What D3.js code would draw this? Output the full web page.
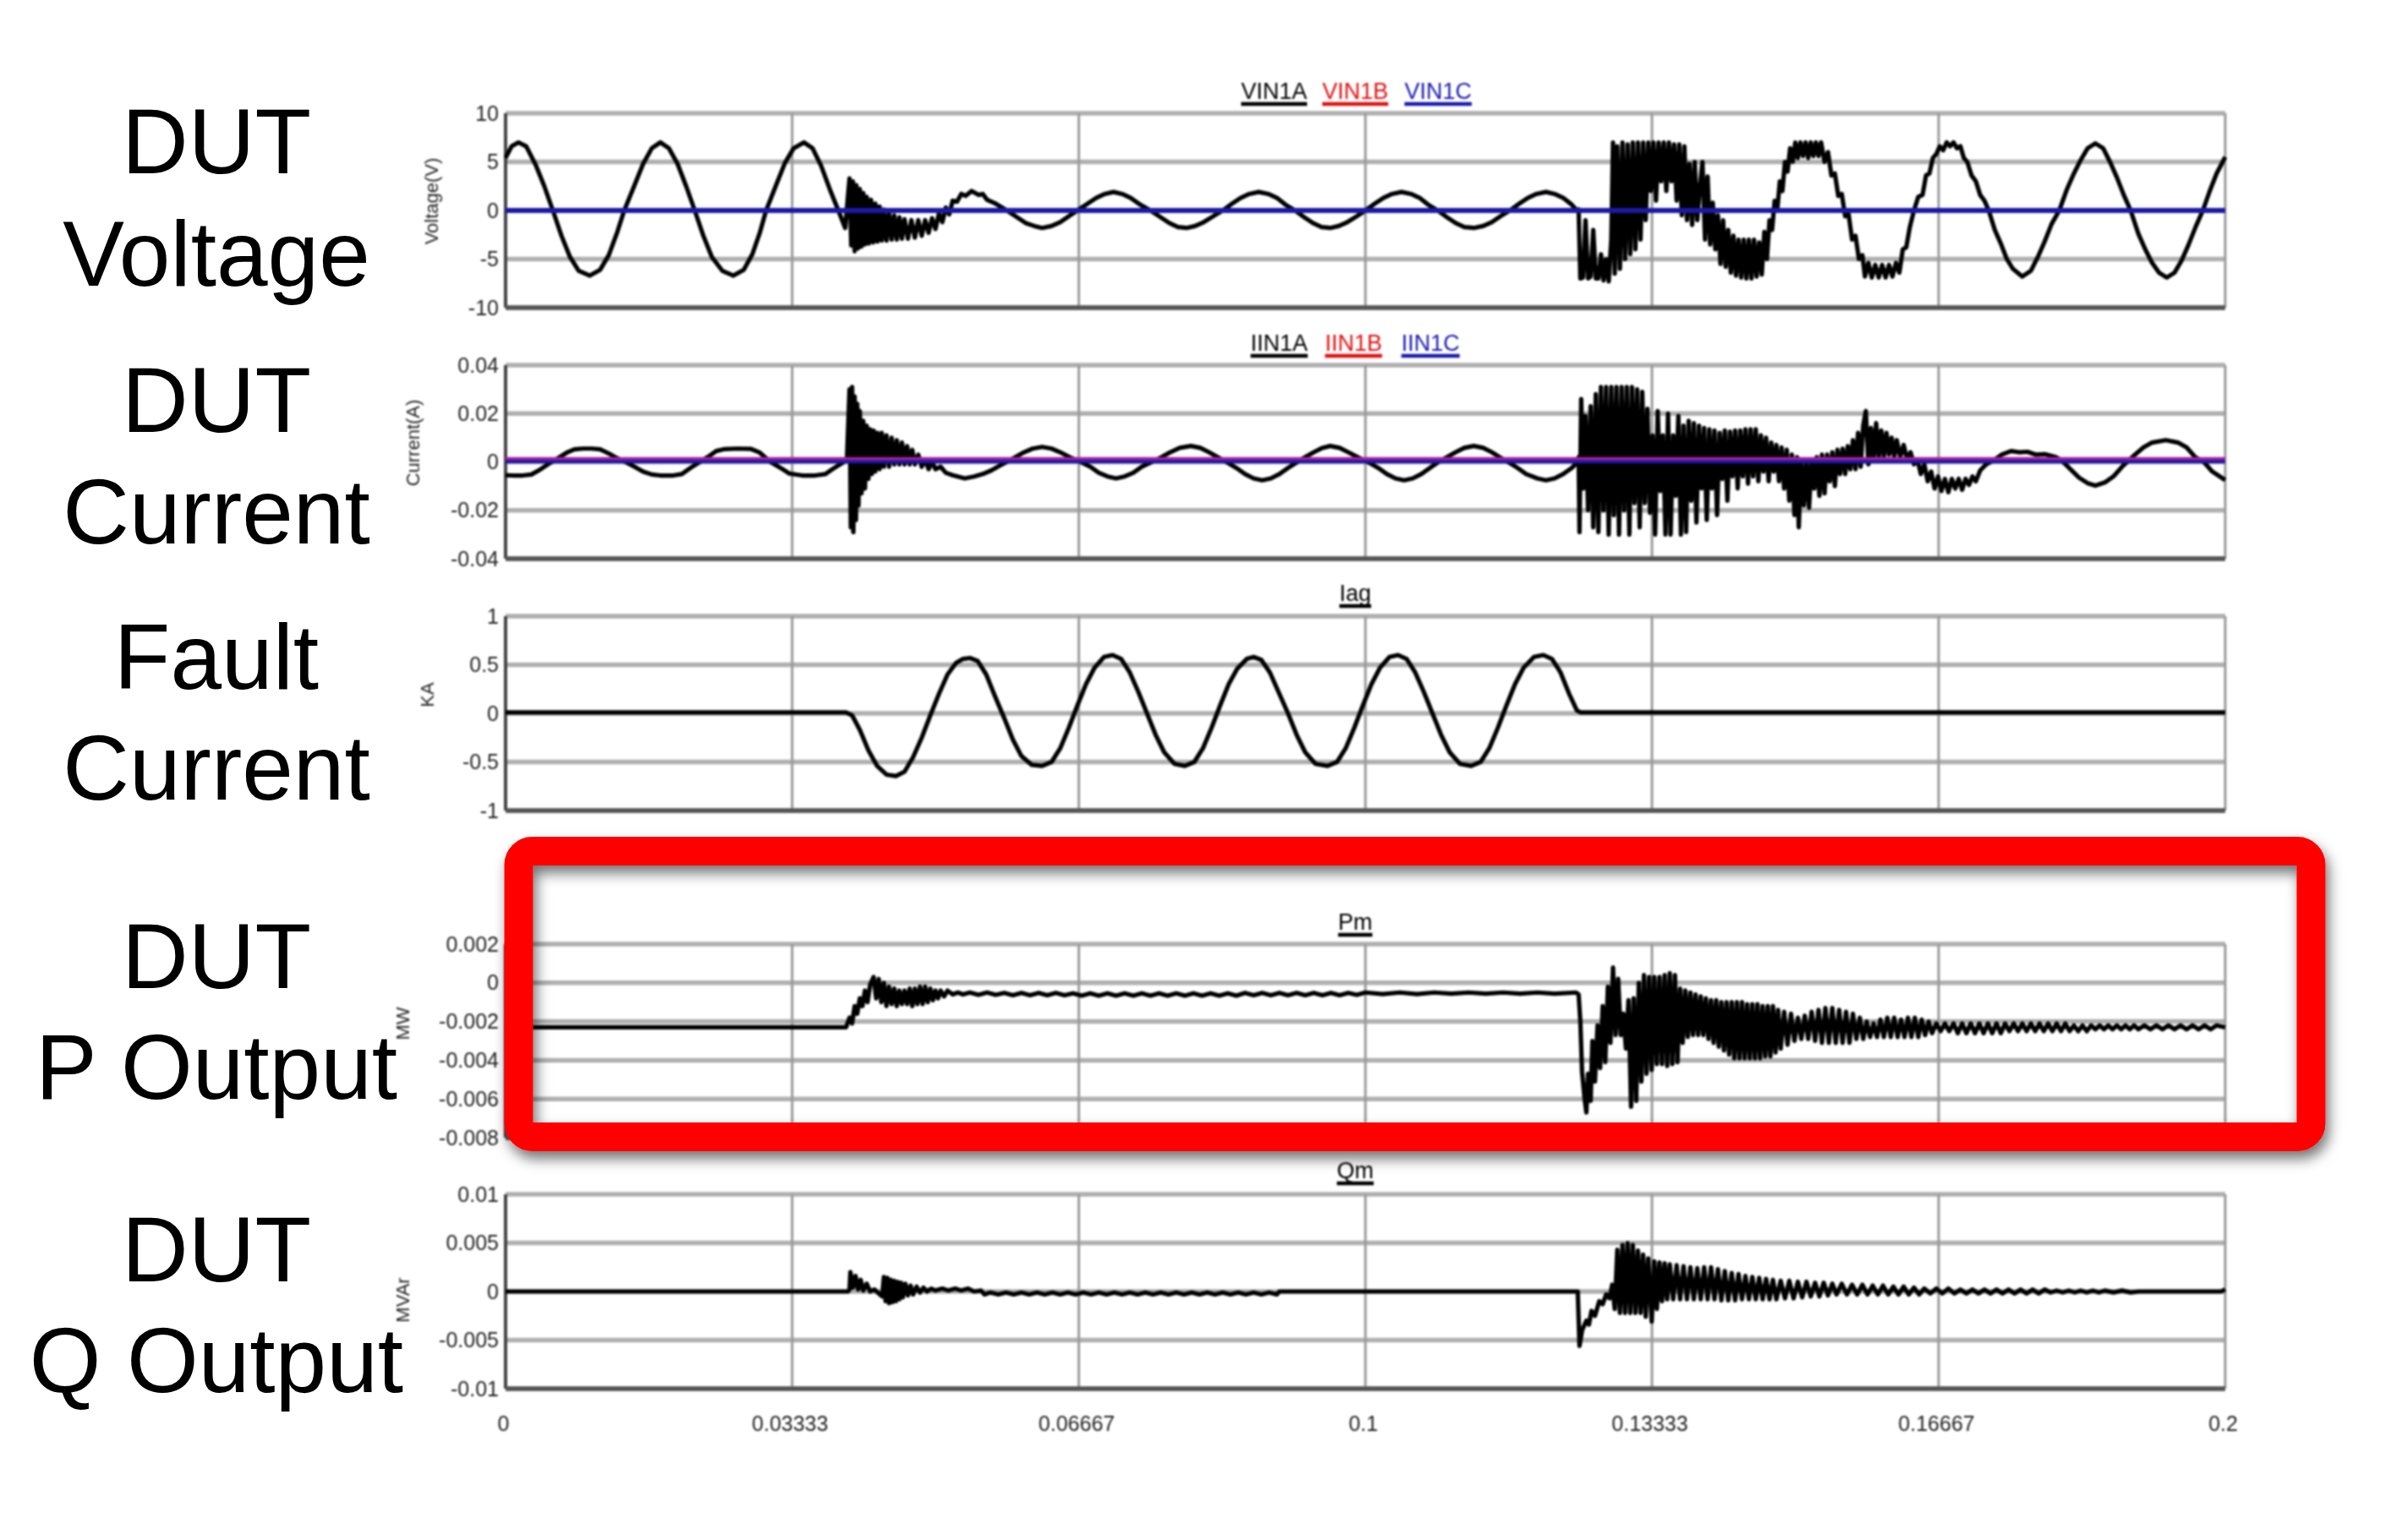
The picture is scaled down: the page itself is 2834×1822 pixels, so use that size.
<!DOCTYPE html>
<html>
<head>
<meta charset="utf-8">
<script src="https://cdn.jsdelivr.net/npm/d3@7"></script>
<style>
  html, body { margin: 0; padding: 0; background: #fff; }
  svg { display: block; font-family: "Liberation Sans", Arial, sans-serif; }
  .panel { filter: blur(1.2px); }
  .tick text { fill: #222; font-size: 25px; }
  .side-label { font-size: 109px; fill: #000; text-anchor: middle; }
</style>
</head>
<body>
<svg id="chart" width="2834" height="1822"></svg>
<script>
// every series is [time in ms, value]
const xTicks = [0, 0.03333, 0.06667, 0.1, 0.13333, 0.16667, 0.2];

const voltTicks = [10, 5, 0, -5, -10];
const currTicks = [0.04, 0.02, 0, -0.02, -0.04];
const faultTicks = [1, 0.5, 0, -0.5, -1];
const pmTicks = [0.002, 0, -0.002, -0.004, -0.006, -0.008];
const qmTicks = [0.01, 0.005, 0, -0.005, -0.01];

const sideLabels = [
  ["DUT", 205], ["Voltage", 338], ["DUT", 511], ["Current", 643], ["Fault", 815], ["Current", 946],
  ["DUT", 1169], ["P Output", 1300], ["DUT", 1516], ["Q Output", 1647]
];

const vin1aBefore = [[0,5.4],[0.7,6.6],[1.5,7],[2.4,6.6],[3.5,4.7],[4.5,2.5],[5.5,0],[6.5,-2.6],[7.5,-4.8],[8.5,-6.2],[9.8,-6.7],[11,-6.1],[12,-4.6],[13,-2.2],[13.8,0],[15,2.6],[16,4.8],[17,6.4],[18,7],[19,6.4],[20,4.8],[21,2.5],[22,0],[23,-2.6],[24,-4.8],[25.2,-6.2],[26.5,-6.7],[27.7,-6.1],[28.7,-4.5],[29.6,-2.2],[30.3,0],[31.5,2.7],[32.5,4.9],[33.5,6.4],[34.7,7],[35.7,6.4],[36.7,4.6],[37.7,2.2],[38.7,0],[39.5,-1.8]];
const vin1aFault = [[40,3.3],[40.2,-3.6],[40.4,3],[40.6,-4.2],[40.8,2.6],[41,-3.9],[41.2,2.2],[41.4,-3.7],[41.6,1.8],[41.8,-3.5],[42,1.4],[42.25,-3.4],[42.5,1.1],[42.75,-3.3],[43,0.7],[43.25,-3.2],[43.5,0.4],[43.75,-3.1],[44,0.1],[44.3,-3.1],[44.6,-0.2],[44.9,-3],[45.2,-0.5],[45.5,-3],[45.8,-0.7],[46.1,-2.9],[46.4,-0.9],[46.8,-2.9],[47.2,-1],[47.6,-2.8],[48,-1],[48.4,-2.6],[48.8,-1],[49.2,-2.3],[49.6,-0.8],[50,-1.9],[50.4,-0.3],[50.8,-1.2],[51.2,0.3],[51.6,-0.4],[52,1],[52.5,0.9],[53,1.7],[53.5,1.5],[54.2,2],[55,1.6],[55.5,1.7],[56,1.1],[57,0.7],[58.3,0],[59.5,-0.7],[60.5,-1.3],[61.5,-1.6],[62.4,-1.8],[63.5,-1.6],[64.5,-1.2],[65.5,-0.6],[66.5,0],[67.7,0.7],[68.7,1.3],[69.7,1.7],[70.7,1.9],[71.7,1.7],[72.7,1.3],[73.8,0.6],[75,0],[76.2,-0.7],[77.2,-1.3],[78.2,-1.7],[79.2,-1.8],[80.2,-1.6],[81.2,-1.2],[82.3,-0.6],[83.4,0],[84.5,0.7],[85.5,1.3],[86.5,1.7],[87.6,1.9],[88.7,1.7],[89.7,1.3],[90.7,0.6],[91.8,0],[92.9,-0.7],[93.9,-1.3],[94.9,-1.7],[95.9,-1.8],[96.9,-1.6],[97.9,-1.2],[99,-0.6],[100,0],[101.1,0.7],[102.1,1.3],[103.1,1.7],[104.2,1.9],[105.3,1.7],[106.3,1.3],[107.3,0.6],[108.4,0],[109.5,-0.7],[110.5,-1.3],[111.5,-1.7],[112.6,-1.8],[113.7,-1.6],[114.7,-1.2],[115.7,-0.6],[116.8,0],[117.9,0.7],[118.9,1.3],[119.9,1.7],[121,1.9],[122,1.7],[123,1.3],[124,0.6],[124.6,0]];
const vin1aAfter = [[124.8,0.1],[125,-7],[125.3,-6.9],[125.6,-1],[125.9,-7],[126.2,-6.8],[126.5,-2],[126.8,-7],[127.1,-7],[127.4,-4.5],[127.7,-7.2],[128,-5],[128.3,-7.3],[128.6,-3],[128.8,7],[129,-6.5],[129.3,6.6],[129.6,-6],[129.9,7],[130.2,-5],[130.5,6.8],[130.8,-4.5],[131.1,7],[131.4,-4],[131.7,7],[132,-3],[132.3,7],[132.6,-1],[132.9,7],[133.2,2],[133.5,7],[133.8,1],[134.1,7],[134.4,3],[134.7,7],[135,2],[135.3,7],[135.6,3],[135.9,6.8],[136.2,1],[136.5,6.8],[136.8,-0.5],[137.1,6.6],[137.4,-1],[137.7,4.8],[138,-1.5],[138.3,5],[138.6,-1],[138.9,2.5],[139.2,5],[139.5,-3],[139.8,3.5],[140.1,-3.5],[140.4,0.8],[140.7,-4],[141,-0.5],[141.3,-5.5],[141.6,-1],[141.9,-5.8],[142.2,-2],[142.5,-6.4],[142.8,-2.6],[143.1,-6.7],[143.4,-3],[143.7,-6.9],[144,-3],[144.3,-7],[144.6,-3],[144.9,-7],[145.2,-3],[145.5,-6.8],[145.8,-3.3],[146.1,-6.6],[146.4,-2.2],[146.7,-5],[147,-1],[147.3,-2],[147.6,1],[147.9,0],[148.2,3],[148.5,2],[148.8,5],[149.1,4],[149.4,6.4],[149.7,5],[150,7],[150.3,5.4],[150.6,7],[150.9,5.6],[151.2,7],[151.5,5.4],[151.8,7],[152.1,5.6],[152.4,7],[152.7,5.6],[153,7],[153.4,5],[153.8,6],[154.2,3.6],[154.6,3.8],[155,1.5],[155.4,1.7],[155.8,-0.6],[156.2,-0.4],[156.6,-3],[157,-2.6],[157.4,-5],[157.8,-4.6],[158.1,-6.8],[158.5,-5.4],[158.9,-6.9],[159.3,-5.6],[159.7,-6.9],[160.1,-5.6],[160.5,-6.9],[160.9,-5.6],[161.3,-6.8],[161.7,-5.4],[162.1,-6.4],[162.5,-4],[162.9,-3.8],[163.3,-1.8],[163.8,0],[164.3,1.4],[164.8,1.6],[165.2,3.6],[165.6,3.8],[166,5.4],[166.4,5.8],[166.8,6.6],[167.2,6.2],[167.6,7],[168,6.6],[168.4,7],[168.8,6.4],[169.2,6.6],[169.6,5.4],[170,5],[170.5,3.6],[171,3],[171.5,1.6],[172,1],[172.5,0],[173.2,-2],[173.9,-3.4],[174.6,-5],[175.3,-6],[176.4,-6.8],[177.4,-6.2],[178.2,-4.8],[179,-3.2],[179.8,-1.4],[180.7,0],[181.6,2.2],[182.4,3.8],[183.2,5.2],[184,6.4],[184.9,6.9],[185.8,6.4],[186.6,5],[187.4,3.4],[188.2,1.6],[189,0],[189.9,-2.4],[190.7,-4],[191.5,-5.4],[192.3,-6.4],[193.2,-6.9],[194.1,-6.4],[194.9,-5.2],[195.7,-3.6],[196.6,-1.6],[197.4,0],[198.2,2],[199,3.8],[200,5.5]];
const vin1b = [[0,0],[200,0]];
const vin1c = [[0,0],[200,0]];

const iin1aBefore = [[0,-0.0055],[1,-0.0056],[2,-0.0056],[3,-0.0052],[4,-0.0032],[5,-0.0008],[5.4,0],[6.3,0.002],[7.2,0.004],[8,0.0052],[9,0.0055],[10,0.0055],[11,0.0052],[12,0.0035],[13,0.0015],[14.1,-0.0003],[15,-0.002],[16,-0.004],[17,-0.0052],[18,-0.0056],[19.5,-0.0056],[20.5,-0.005],[21.5,-0.0025],[22.6,0],[23.5,0.002],[24.5,0.0045],[25.5,0.0053],[27,0.0055],[28.5,0.0054],[29.5,0.004],[30.8,0],[32,-0.0025],[33,-0.0048],[34.5,-0.0056],[36,-0.0056],[37.2,-0.005],[38,-0.003],[39,-0.0008],[39.7,0.0008]];
const iin1aFault = [[40,0.03],[40.15,-0.027],[40.3,0.031],[40.45,-0.029],[40.6,0.027],[40.75,-0.024],[40.9,0.024],[41.05,-0.018],[41.2,0.021],[41.4,-0.013],[41.6,0.017],[41.8,-0.011],[42,0.015],[42.2,-0.007],[42.4,0.0135],[42.6,-0.005],[42.8,0.013],[43,-0.004],[43.25,0.012],[43.5,-0.003],[43.75,0.012],[44,-0.002],[44.3,0.011],[44.6,-0.002],[44.9,0.01],[45.2,-0.001],[45.5,0.009],[45.8,-0.001],[46.1,0.008],[46.4,-0.001],[46.7,0.0065],[47,-0.001],[47.3,0.005],[47.6,-0.001],[48,0.003],[48.4,-0.002],[48.8,0.001],[49.2,-0.003],[49.6,0],[50,-0.003],[50.6,-0.002],[51.2,-0.0045],[52,-0.0055],[53.4,-0.0068],[54.5,-0.006],[55.5,-0.005],[56.5,-0.0035],[57.5,-0.0015],[58.3,0],[59.3,0.002],[60.3,0.004],[61.3,0.0055],[62.4,0.0062],[63.5,0.0055],[64.5,0.004],[65.7,0.0018],[67,-0.0002],[68,-0.002],[69,-0.0045],[70,-0.006],[71,-0.0068],[72,-0.006],[73,-0.0045],[74,-0.002],[75.2,0],[76.3,0.002],[77.3,0.004],[78.4,0.0058],[79.7,0.0066],[80.8,0.0058],[81.8,0.004],[82.9,0.0018],[83.9,-0.0002],[85,-0.0025],[86,-0.005],[87,-0.0068],[88,-0.0076],[89,-0.0068],[90,-0.005],[91,-0.0025],[92.1,0],[93,0.002],[94,0.004],[95,0.0058],[95.9,0.0066],[97,0.0058],[98,0.004],[99.2,0.0018],[100.4,-0.0003],[101.5,-0.0025],[102.5,-0.005],[103.5,-0.0068],[104.5,-0.0076],[105.5,-0.0068],[106.5,-0.005],[107.5,-0.0025],[108.5,0],[109.5,0.002],[110.5,0.004],[111.5,0.0058],[112.6,0.0066],[113.7,0.0058],[114.7,0.004],[115.7,0.0018],[116.7,-0.0003],[117.7,-0.0025],[118.7,-0.005],[120,-0.0068],[121,-0.0076],[122,-0.0068],[123,-0.005],[124,-0.0025],[124.6,-0.0003]];
const iin1aAfter = [[124.8,0.002],[124.9,-0.029],[125.1,0.026],[125.35,-0.011],[125.6,0.019],[125.9,-0.02],[126.2,0.023],[126.5,-0.027],[126.8,0.028],[127.1,-0.029],[127.4,0.031],[127.7,-0.02],[128,0.031],[128.3,-0.03],[128.6,0.031],[128.9,-0.022],[129.2,0.031],[129.5,-0.03],[129.8,0.031],[130.1,-0.02],[130.4,0.031],[130.7,-0.03],[131,0.031],[131.3,-0.017],[131.6,0.03],[131.9,-0.027],[132.2,0.029],[132.5,-0.017],[132.8,0.022],[133.1,-0.021],[133.4,0.011],[133.7,-0.03],[134,0.021],[134.3,-0.012],[134.6,0.011],[134.9,-0.03],[135.2,0.02],[135.5,-0.03],[135.8,0.011],[136.1,-0.014],[136.4,0.019],[136.7,-0.03],[137,0.015],[137.3,-0.029],[137.6,0.017],[137.9,-0.016],[138.2,0.016],[138.5,-0.025],[138.8,0.015],[139.1,-0.011],[139.4,0.014],[139.7,-0.024],[140,0.0135],[140.3,-0.011],[140.6,0.013],[140.9,-0.022],[141.2,0.012],[141.5,-0.007],[141.8,0.013],[142.1,-0.016],[142.4,0.0125],[142.7,-0.006],[143,0.013],[143.3,-0.011],[143.6,0.013],[143.9,-0.006],[144.2,0.0135],[144.5,-0.009],[144.8,0.0135],[145.1,-0.006],[145.4,0.0135],[145.7,-0.008],[146,0.011],[146.3,-0.004],[146.6,0.01],[146.9,-0.008],[147.2,0.008],[147.5,-0.004],[147.8,0.007],[148.1,-0.008],[148.4,0.006],[148.7,-0.011],[149,0.005],[149.3,-0.016],[149.6,0.003],[149.9,-0.022],[150.2,0.002],[150.4,-0.027],[150.7,0.0005],[151,-0.018],[151.3,0.001],[151.6,-0.019],[151.9,0.001],[152.2,-0.011],[152.5,0.002],[152.8,-0.014],[153.1,0.003],[153.4,-0.013],[153.7,0.003],[154,-0.008],[154.3,0.004],[154.6,-0.01],[154.9,0.005],[155.2,-0.005],[155.5,0.0055],[155.8,-0.005],[156.1,0.0065],[156.4,-0.003],[156.7,0.009],[157,-0.003],[157.3,0.012],[157.6,-0.002],[157.9,0.015],[158.2,0.021],[158.5,-0.001],[158.8,0.014],[159.1,0.001],[159.4,0.016],[159.7,0.002],[160,0.013],[160.3,0.002],[160.6,0.012],[160.9,0.003],[161.2,0.01],[161.5,0.002],[161.8,0.009],[162.2,0.002],[162.6,0.007],[163,0.001],[163.4,0.004],[163.8,-0.001],[164.2,0.001],[164.6,-0.005],[165,-0.001],[165.4,-0.008],[165.8,-0.004],[166.2,-0.011],[166.6,-0.006],[167,-0.012],[167.4,-0.007],[167.8,-0.0125],[168.2,-0.007],[168.6,-0.011],[169,-0.007],[169.4,-0.0115],[169.8,-0.007],[170.2,-0.0095],[170.6,-0.006],[171,-0.008],[171.5,-0.0035],[172.2,-0.001],[173,0.0005],[174,0.003],[175.1,0.0045],[176,0.004],[177,0.0042],[178,0.003],[179,0.0032],[180.3,0.002],[181,0.0005],[182,-0.003],[183,-0.0065],[184,-0.0088],[184.9,-0.0098],[186,-0.0085],[187,-0.006],[188,-0.002],[188.6,0],[189.5,0.003],[190.5,0.006],[191.5,0.008],[193.1,0.009],[194.5,0.008],[195.5,0.006],[196.5,0.002],[197.5,0],[198.5,-0.004],[200,-0.0075]];
const iin1b = [[0,0.0014],[200,0.0014]];
const iin1c = [[0,0.0002],[200,0.0002]];

const iag = [[0,0.01],[39.6,0.01],[40.3,-0.02],[41.2,-0.17],[42.2,-0.38],[43.2,-0.54],[44.3,-0.63],[45.4,-0.645],[46.4,-0.6],[47.4,-0.45],[48.4,-0.25],[49.4,-0.02],[50.4,0.2],[51.4,0.4],[52.4,0.52],[53.2,0.56],[54,0.57],[54.9,0.54],[55.9,0.4],[56.9,0.18],[58,-0.05],[59,-0.27],[60,-0.44],[61.2,-0.53],[62.4,-0.54],[63.5,-0.5],[64.5,-0.36],[65.5,-0.15],[66.5,0.08],[67.5,0.3],[68.5,0.47],[69.6,0.58],[70.6,0.6],[71.6,0.56],[72.6,0.42],[73.6,0.22],[74.6,0],[75.6,-0.22],[76.6,-0.4],[77.8,-0.52],[79,-0.54],[80.1,-0.5],[81.1,-0.36],[82.1,-0.15],[83.1,0.08],[84.1,0.3],[85.1,0.46],[86.2,0.56],[87,0.58],[87.9,0.55],[88.9,0.42],[89.9,0.22],[91,0],[92,-0.22],[93,-0.4],[94.2,-0.52],[95.6,-0.54],[96.7,-0.5],[97.7,-0.36],[98.7,-0.15],[99.7,0.08],[100.7,0.3],[101.7,0.47],[102.8,0.58],[103.8,0.6],[104.8,0.56],[105.8,0.42],[106.8,0.22],[107.8,0],[108.8,-0.22],[109.8,-0.4],[111,-0.52],[112.3,-0.54],[113.4,-0.5],[114.4,-0.36],[115.4,-0.15],[116.4,0.08],[117.4,0.3],[118.4,0.47],[119.6,0.58],[120.7,0.6],[121.7,0.56],[122.7,0.42],[123.7,0.2],[124.6,0.03],[125,0.01],[200,0.01]];

const pmBefore = [[0,-0.0023],[39.6,-0.0023],[40,-0.0018],[40.3,-0.0021],[40.6,-0.0012],[40.9,-0.0016],[41.2,-0.0008],[41.5,-0.0012],[41.8,-0.0004],[42.1,-0.001],[42.4,-0.0001],[42.8,0.0003],[43.1,-0.0008],[43.4,0.0002],[43.7,-0.001],[44,0],[44.3,-0.0012],[44.6,-0.0002],[44.9,-0.0011],[45.2,-0.0003],[45.5,-0.0012],[45.8,-0.0004],[46.1,-0.0011],[46.4,-0.0004],[46.7,-0.0011],[47,-0.0003],[47.3,-0.0012],[47.6,-0.0003],[47.9,-0.0011],[48.2,-0.0002],[48.5,-0.0011],[48.8,-0.0002],[49.1,-0.001],[49.4,-0.0003],[49.7,-0.0009],[50,-0.0004],[50.3,-0.0008],[50.6,-0.0004],[51,-0.0007],[51.4,-0.0004],[52,-0.0006],[52.6,-0.0005],[53.2,-0.0006]];
const pmSteady = [[54,-0.0005],[55,-0.00062],[56,-0.0005],[57,-0.00062],[58,-0.00052],[59,-0.00064],[60,-0.00052],[61,-0.00064],[62,-0.00052],[63,-0.00064],[64,-0.00052],[65,-0.00064],[66,-0.00054],[67,-0.00066],[68,-0.00054],[69,-0.00066],[70,-0.00054],[71,-0.00066],[72,-0.00054],[73,-0.00066],[74,-0.00054],[75,-0.00066],[76,-0.00054],[77,-0.00066],[78,-0.00054],[79,-0.00066],[80,-0.00054],[81,-0.00066],[82,-0.00054],[83,-0.00066],[84,-0.00054],[85,-0.00066],[86,-0.00052],[87,-0.00064],[88,-0.00052],[89,-0.00064],[90,-0.00052],[91,-0.00064],[92,-0.00052],[93,-0.00064],[94,-0.00052],[95,-0.00064],[96,-0.00052],[97,-0.00064],[98,-0.00052],[99,-0.00062],[100,-0.0005],[102,-0.00058],[104,-0.0005],[106,-0.00058],[108,-0.0005],[110,-0.00056],[112,-0.0005],[114,-0.00056],[116,-0.0005],[118,-0.00056],[120,-0.0005],[122,-0.00056],[124.5,-0.0005]];
const pmAfter = [[124.8,-0.0006],[125,-0.002],[125.2,-0.0046],[125.5,-0.006],[125.7,-0.0067],[125.9,-0.0047],[126.2,-0.0061],[126.4,-0.003],[126.7,-0.0051],[127,-0.0022],[127.3,-0.0044],[127.6,-0.0012],[127.9,-0.0041],[128.2,-0.0002],[128.5,-0.0031],[128.8,0.0008],[129.1,-0.0027],[129.4,0.0002],[129.7,-0.0027],[130,-0.0016],[130.3,-0.0034],[130.6,-0.0009],[130.9,-0.0064],[131.2,-0.0008],[131.5,-0.0061],[131.8,0],[132.1,-0.0051],[132.4,0.0004],[132.7,-0.0047],[133,0.0003],[133.3,-0.0045],[133.6,0.0003],[133.9,-0.0042],[134.2,0.0003],[134.5,-0.0042],[134.8,0.0004],[135.1,-0.0043],[135.4,0.0005],[135.7,-0.0042],[136,0.0004],[136.3,-0.0041],[136.6,-0.0003],[136.9,-0.0031],[137.2,-0.0004],[137.5,-0.0028],[137.8,-0.0005],[138.1,-0.0027],[138.4,-0.0006],[138.7,-0.0027],[139,-0.0007],[139.3,-0.0027],[139.6,-0.0008],[139.9,-0.0029],[140.2,-0.0009],[140.5,-0.0031],[140.8,-0.0009],[141.1,-0.0033],[141.4,-0.001],[141.7,-0.0035],[142,-0.001],[142.3,-0.0037],[142.6,-0.001],[142.9,-0.0039],[143.2,-0.001],[143.5,-0.0039],[143.8,-0.001],[144.1,-0.0039],[144.4,-0.0011],[144.7,-0.0039],[145,-0.0011],[145.3,-0.0039],[145.6,-0.0011],[145.9,-0.0039],[146.2,-0.0012],[146.5,-0.0038],[146.8,-0.0012],[147.1,-0.0038],[147.4,-0.0012],[147.7,-0.0036],[148,-0.0014],[148.3,-0.0034],[148.7,-0.0015],[149.1,-0.0032],[149.5,-0.0016],[149.9,-0.003],[150.3,-0.0018],[150.7,-0.0029],[151.1,-0.0017],[151.5,-0.0029],[151.9,-0.0015],[152.3,-0.003],[152.7,-0.0014],[153.1,-0.0031],[153.5,-0.0013],[153.9,-0.0031],[154.3,-0.0013],[154.7,-0.0031],[155.1,-0.0014],[155.5,-0.0031],[155.9,-0.0015],[156.3,-0.0031],[156.7,-0.0016],[157.1,-0.0029],[157.5,-0.0018],[157.9,-0.0029],[158.3,-0.002],[158.7,-0.0028],[159.1,-0.0021],[159.5,-0.0028],[159.9,-0.0019],[160.3,-0.0028],[160.7,-0.0018],[161.1,-0.0028],[161.5,-0.0018],[161.9,-0.0028],[162.3,-0.0019],[162.7,-0.0028],[163.1,-0.0018],[163.5,-0.0028],[163.9,-0.0018],[164.3,-0.0028],[164.7,-0.0019],[165.1,-0.0027],[165.5,-0.002],[165.9,-0.0026],[166.4,-0.0021],[166.9,-0.0025],[167.4,-0.0021],[167.9,-0.0025],[168.4,-0.0021],[168.9,-0.0026],[169.4,-0.0021],[169.9,-0.0026],[170.4,-0.0021],[170.9,-0.0026],[171.4,-0.0021],[171.9,-0.0026],[172.4,-0.0021],[172.9,-0.0026],[173.4,-0.0021],[173.9,-0.0026],[174.4,-0.0021],[174.9,-0.0025],[175.4,-0.0021],[175.9,-0.0025],[176.4,-0.0021],[176.9,-0.0025],[177.4,-0.0021],[177.9,-0.0025],[178.4,-0.0021],[178.9,-0.0025],[179.4,-0.0021],[179.9,-0.0025],[180.4,-0.0021],[180.9,-0.0025],[181.4,-0.0021],[181.9,-0.0025],[182.4,-0.0022],[182.9,-0.0025],[183.4,-0.0022],[183.9,-0.0025],[184.4,-0.0022],[184.9,-0.0024],[185.4,-0.0022],[185.9,-0.0024],[186.4,-0.0022],[186.9,-0.0024],[187.4,-0.0022],[187.9,-0.0024],[188.4,-0.0022],[188.9,-0.0024],[189.4,-0.0022],[189.9,-0.0024],[190.6,-0.0022],[191.3,-0.0024],[192,-0.0022],[192.7,-0.0024],[193.4,-0.0022],[194.1,-0.0024],[194.8,-0.0022],[195.5,-0.0024],[196.2,-0.0022],[196.9,-0.0024],[197.6,-0.0022],[198.3,-0.0024],[199,-0.0022],[200,-0.0023]];

const qmBefore = [[0,0],[39.8,0],[40,0.0002],[40.1,0.002],[40.4,0.0004],[40.7,0.0016],[41,0.0002],[41.3,0.0012],[41.6,0.0001],[42,0.0008],[42.4,0],[42.9,0.0002],[43.4,-0.0002],[43.8,-0.0005],[44,0.0015],[44.2,-0.001],[44.4,0.0014],[44.6,-0.0012],[44.8,0.0012],[45,-0.0011],[45.2,0.0011],[45.4,-0.001],[45.6,0.001],[45.8,-0.0008],[46,0.0009],[46.2,-0.0006],[46.5,0.0008],[46.8,-0.0004],[47.1,0.0006],[47.4,-0.0003],[47.8,0.0005],[48.2,-0.0001],[48.6,0.0004],[49,0],[49.5,0.0003],[50,0.0001],[50.8,0.0003],[51.5,0.0001],[52.3,0.0003],[53,0.0001],[53.8,0.0003],[54.5,0],[55.3,0.0001],[55.7,-0.0003],[56.4,-0.0001],[57.3,-0.0003],[58.2,-0.0001],[59.1,-0.0003],[60,-0.0001],[60.9,-0.0003],[61.8,-0.0001],[62.7,-0.0003],[63.6,-0.0001],[64.5,-0.0003],[65.4,-0.0001],[66.3,-0.0003],[67.2,-0.0001],[68.1,-0.0003],[69,-0.0001],[69.9,-0.0003],[70.8,-0.0001],[71.7,-0.0003],[72.6,-0.0001],[73.5,-0.0003],[74.4,-0.0001],[75.3,-0.0003],[76.2,-0.0001],[77.1,-0.0003],[78,-0.0001],[78.9,-0.0003],[79.8,-0.0001],[80.7,-0.0003],[81.6,-0.0001],[82.5,-0.0003],[83.4,-0.0001],[84.3,-0.0003],[85.2,-0.0001],[86.1,-0.0003],[87,-0.0001],[87.9,-0.0003],[88.8,-0.0001],[89.7,-0.0003],[90,0],[124.6,0]];
const qmAfter = [[124.7,0],[124.9,-0.0056],[125.2,-0.004],[125.7,-0.003],[126,-0.0034],[126.3,-0.002],[126.7,-0.0025],[127.2,-0.001],[127.6,-0.0013],[128,-0.0003],[128.4,-0.0007],[128.7,0.0007],[129,-0.0018],[129.3,0.0043],[129.6,-0.0022],[129.9,0.0048],[130.2,-0.0022],[130.5,0.005],[130.8,-0.0022],[131.1,0.0048],[131.4,-0.0022],[131.7,0.0042],[132,-0.0022],[132.3,0.0038],[132.6,-0.0026],[132.9,0.0034],[133.3,-0.0031],[133.6,0.0031],[133.9,-0.0018],[134.2,0.003],[134.5,-0.001],[134.8,0.0029],[135.1,-0.0008],[135.4,0.0028],[135.8,-0.0008],[136.2,0.0027],[136.6,-0.0008],[137,0.0026],[137.4,-0.0008],[137.8,0.0025],[138.2,-0.0008],[138.6,0.0024],[139,-0.0008],[139.4,0.0025],[139.8,-0.0008],[140.2,0.0025],[140.6,-0.0008],[141,0.0023],[141.4,-0.0009],[141.8,0.0021],[142.2,-0.0009],[142.6,0.0019],[143,-0.0009],[143.4,0.0018],[143.8,-0.0008],[144.2,0.0016],[144.6,-0.0008],[145,0.0015],[145.4,-0.0008],[145.8,0.0014],[146.2,-0.0008],[146.6,0.0013],[147,-0.0008],[147.4,0.0012],[147.8,-0.0008],[148.3,0.0011],[148.8,-0.0007],[149.3,0.0011],[149.8,-0.0007],[150.3,0.001],[150.8,-0.0006],[151.3,0.001],[151.8,-0.0005],[152.3,0.0009],[152.8,-0.0005],[153.3,0.0009],[153.8,-0.0004],[154.3,0.0008],[154.8,-0.0003],[155.4,0.0008],[156,-0.0003],[156.6,0.0007],[157.2,-0.0003],[157.8,0.0007],[158.4,-0.0003],[159,0.0006],[159.6,-0.0003],[160.2,0.0006],[160.8,-0.0003],[161.4,0.0005],[162,-0.0003],[162.6,0.0005],[163.2,-0.0003],[163.8,0.0004],[164.4,-0.0003],[165,0.0003],[165.7,-0.0002],[166.4,0.0003],[167.1,-0.0002],[167.8,0.0003],[168.5,-0.0002],[169.2,0.0002],[169.9,-0.0002],[170.6,0.0002],[171.3,-0.0002],[172,0.0002],[172.7,-0.0002],[173.4,0.0002],[174.1,-0.0002],[174.8,0.0002],[175.5,-0.0002],[176.2,0.0002],[176.9,-0.0002],[177.6,0.0002],[178.3,-0.0002],[179,0.0002],[179.7,-0.0001],[180.4,0.0001],[181.1,-0.0001],[181.8,0.0001],[182.5,-0.0001],[183.2,0.0001],[183.9,-0.0001],[184.6,0.0001],[185.3,-0.0001],[186,0.0001],[187,-0.0001],[188,0.0001],[189,-0.0001],[190,0],[199.5,0],[200,0.0002]];

const x = d3.scaleLinear().domain([0, 0.2]).range([598, 2632]);

const panels = [
  { top: 134, bottom: 364, domain: [-10, 10], ticks: voltTicks, title: "Voltage(V)", titleX: 518, titleY: 238,
    legendY: 117, legend: [["VIN1A", "#000", 1507], ["VIN1B", "#e01010", 1603], ["VIN1C", "#1a1ab0", 1701]],
    lines: [[vin1aBefore.concat(vin1aFault, vin1aAfter), "#000", 5.2], [vin1b, "#e01010", 5], [vin1c, "#1a1aa5", 6]] },
  { top: 432, bottom: 661, domain: [-0.04, 0.04], ticks: currTicks, title: "Current(A)", titleX: 496, titleY: 524,
    legendY: 415, legend: [["IIN1A", "#000", 1513], ["IIN1B", "#e01010", 1601], ["IIN1C", "#1a1ab0", 1692]],
    lines: [[iin1aBefore.concat(iin1aFault, iin1aAfter), "#000", 5.2], [iin1c, "#1a1aa5", 4.5], [iin1b, "#a8209a", 3.5]] },
  { top: 729, bottom: 959, domain: [-1, 1], ticks: faultTicks, title: "KA", titleX: 513, titleY: 822,
    legendY: 711, legend: [["Iag", "#000", 1603]],
    lines: [[iag, "#000", 5.2]] },
  { top: 1117, bottom: 1346, domain: [-0.008, 0.002], ticks: pmTicks, title: "MW", titleX: 484, titleY: 1211,
    legendY: 1100, legend: [["Pm", "#000", 1603]],
    lines: [[pmBefore.concat(pmSteady, pmAfter), "#000", 5.2]] },
  { top: 1413, bottom: 1643, domain: [-0.01, 0.01], ticks: qmTicks, title: "MVAr", titleX: 484, titleY: 1538,
    legendY: 1394, legend: [["Qm", "#000", 1603]],
    lines: [[qmBefore.concat(qmAfter), "#000", 5.2]] }
];

const svg = d3.select("#chart");

const defs = svg.append("defs");
const shadow = defs.append("filter").attr("id", "boxShadow")
  .attr("x", "-5%").attr("y", "-15%").attr("width", "110%").attr("height", "130%");
shadow.append("feDropShadow").attr("dx", 4).attr("dy", 9).attr("stdDeviation", 8)
  .attr("flood-color", "#000").attr("flood-opacity", 0.55);

panels.forEach((p, i) => {
  const g = svg.append("g").attr("class", "panel");
  const y = d3.scaleLinear().domain(p.domain).range([p.bottom, p.top]);

  // grid
  g.append("g").selectAll("line").data(p.ticks).join("line")
    .attr("x1", x(0)).attr("x2", x(0.2))
    .attr("y1", d => y(d)).attr("y2", d => y(d))
    .attr("stroke", "#b0b0b0").attr("stroke-width", 5.5);
  g.append("g").selectAll("line").data(xTicks.slice(1)).join("line")
    .attr("x1", d => x(d)).attr("x2", d => x(d))
    .attr("y1", p.top).attr("y2", p.bottom)
    .attr("stroke", "#9a9a9a").attr("stroke-width", 3);

  // frame: left and bottom edges are the dark ones
  g.append("line").attr("x1", x(0)).attr("x2", x(0)).attr("y1", p.top).attr("y2", p.bottom)
    .attr("stroke", "#444").attr("stroke-width", 4);
  g.append("line").attr("x1", x(0)).attr("x2", x(0.2)).attr("y1", p.bottom).attr("y2", p.bottom)
    .attr("stroke", "#555").attr("stroke-width", 5.5);

  const yAxis = g.append("g").attr("transform", `translate(${x(0)},0)`)
    .call(d3.axisLeft(y).tickValues(p.ticks).tickSize(0).tickPadding(8).tickFormat(d => String(d)));
  yAxis.select(".domain").remove();

  g.append("text").attr("transform", `translate(${p.titleX},${p.titleY}) rotate(-90)`)
    .attr("text-anchor", "middle").attr("font-size", 22).attr("fill", "#222").text(p.title);

  p.legend.forEach(([name, color, cx]) => {
    const t = g.append("text").attr("x", cx).attr("y", p.legendY)
      .attr("text-anchor", "middle").attr("font-size", 27).attr("fill", color).text(name);
    const w = t.node().getComputedTextLength();
    g.append("line").attr("x1", cx - w / 2).attr("x2", cx + w / 2)
      .attr("y1", p.legendY + 6).attr("y2", p.legendY + 6)
      .attr("stroke", color).attr("stroke-width", 4.5);
  });

  const line = d3.line().x(d => x(d[0] / 1000)).y(d => y(d[1]));
  p.lines.forEach(([data, color, width]) => {
    g.append("path").datum(data).attr("d", line)
      .attr("fill", "none").attr("stroke", color).attr("stroke-width", width).attr("stroke-linejoin", "round");
  });

  // only the last panel carries the time axis
  if (i === panels.length - 1) {
    const xAxis = g.append("g").attr("transform", `translate(-3,${p.bottom})`)
      .call(d3.axisBottom(x).tickValues(xTicks).tickSize(0).tickPadding(32).tickFormat(d => String(d)));
    xAxis.select(".domain").remove();
  }
});

svg.append("g").selectAll("text").data(sideLabels).join("text")
  .attr("class", "side-label").attr("x", 256).attr("y", d => d[1]).text(d => d[0]);

// red highlight around the Pm panel
svg.append("rect").attr("x", 613.5).attr("y", 1007).attr("width", 2120).attr("height", 338).attr("rx", 16)
  .attr("fill", "none").attr("stroke", "#ff0000").attr("stroke-width", 34).attr("filter", "url(#boxShadow)");
</script>
</body>
</html>
